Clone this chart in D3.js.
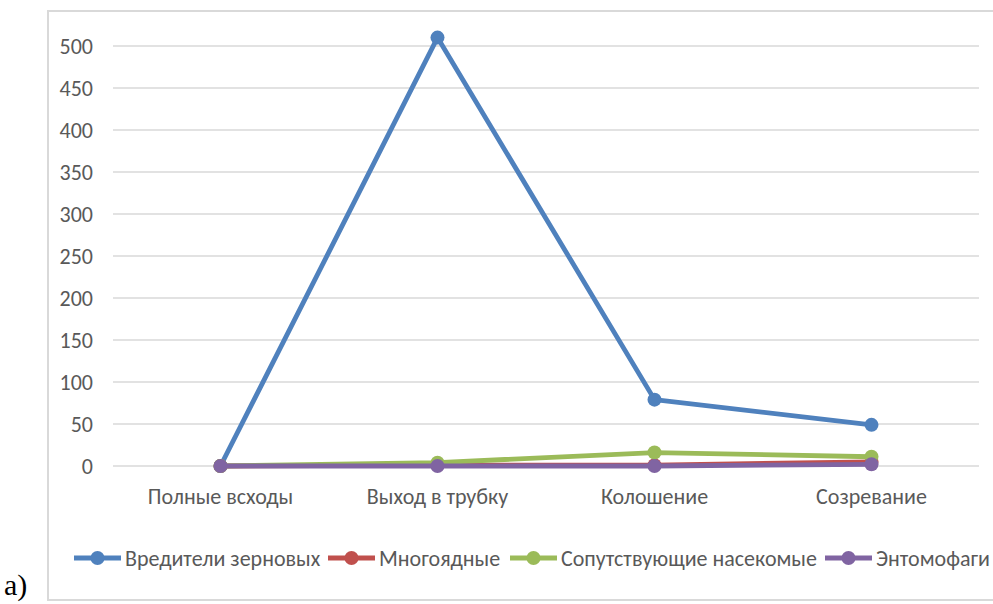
<!DOCTYPE html>
<html>
<head>
<meta charset="utf-8">
<script src="https://d3js.org/d3.v7.min.js"></script>
<style>
  body { margin: 0; background: #fff; }
  svg { display: block; }
</style>
</head>
<body>
<svg width="993" height="604"></svg>
<script>
// stages of crop growth
var stages = ["Полные всходы", "Выход в трубку", "Колошение", "Созревание"];
var seriesNames = ["Вредители зерновых", "Многоядные", "Сопутствующие насекомые", "Энтомофаги"];
var colors = ["#4f81bd", "#c0504d", "#9bbb59", "#8064a2"];
var pests = [0, 510, 79, 49];
var polyphagous = [0, 1, 1, 5];
var companions = [0, 4, 16, 11];
var entomophages = [0, 0, 0, 2];
var yTicks = [0, 50, 100, 150, 200, 250, 300, 350, 400, 450, 500];

var allValues = [pests, polyphagous, companions, entomophages];

var svg = d3.select("svg"),
    font = "Carlito, 'Open Sans', sans-serif",
    fs = 22;

// outer frame of the chart
svg.append("rect")
    .attr("x", 48).attr("y", 11)
    .attr("width", 960).attr("height", 589)
    .attr("fill", "none")
    .attr("stroke", "#d9d9d9")
    .attr("stroke-width", 2);

var x = d3.scaleBand()
    .domain(stages)
    .range([112, 980]);

var y = d3.scaleLinear()
    .domain([0, 500])
    .range([466, 46]);

// gridlines
svg.append("g")
    .selectAll("line")
    .data(yTicks)
    .enter().append("line")
      .attr("x1", 113).attr("x2", 979)
      .attr("y1", function(d){ return y(d); })
      .attr("y2", function(d){ return y(d); })
      .attr("stroke", "#d9d9d9")
      .attr("stroke-width", 1.3);

var yAxis = svg.append("g")
    .attr("transform", "translate(113,0)")
    .call(d3.axisLeft(y).tickValues(yTicks).tickSize(0).tickPadding(20));
yAxis.select(".domain").remove();
yAxis.selectAll("text")
    .attr("font-family", font)
    .attr("font-size", fs)
    .attr("fill", "#595959");

var xAxis = svg.append("g")
    .attr("transform", "translate(0,466)")
    .call(d3.axisBottom(x).tickSize(0).tickPadding(22));
xAxis.select(".domain").remove();
xAxis.selectAll("text")
    .attr("font-family", font)
    .attr("font-size", fs)
    .attr("fill", "#595959");

var line = d3.line()
    .x(function(d, i){ return x(stages[i]) + x.bandwidth() / 2; })
    .y(function(d){ return y(d); });

// draw series, last one on top
allValues.forEach(function(vals, k){
  var g = svg.append("g");
  g.append("path")
      .attr("d", line(vals))
      .attr("fill", "none")
      .attr("stroke", colors[k])
      .attr("stroke-width", 4.8)
      .attr("stroke-linejoin", "round");
  g.selectAll("circle")
      .data(vals)
      .enter().append("circle")
        .attr("cx", function(d, i){ return x(stages[i]) + x.bandwidth() / 2; })
        .attr("cy", function(d){ return y(d); })
        .attr("r", 7)
        .attr("fill", colors[k]);
});

// legend
var legendX = [74, 328, 510, 825];
var legend = svg.append("g");
seriesNames.forEach(function(name, k){
  var lg = legend.append("g").attr("transform", "translate(" + legendX[k] + ",558)");
  lg.append("line")
      .attr("x1", 0).attr("x2", 47)
      .attr("stroke", colors[k])
      .attr("stroke-width", 4.8);
  lg.append("circle")
      .attr("cx", 23.5).attr("r", 7)
      .attr("fill", colors[k]);
  lg.append("text")
      .attr("x", 51).attr("dy", "0.35em")
      .attr("font-family", font)
      .attr("font-size", fs)
      .attr("fill", "#595959")
      .text(name);
});

svg.append("text")
    .attr("x", 4).attr("y", 595)
    .attr("font-family", "'Liberation Serif', 'Times New Roman', serif")
    .attr("font-size", 30)
    .attr("fill", "#000")
    .text("а)");
</script>
</body>
</html>
